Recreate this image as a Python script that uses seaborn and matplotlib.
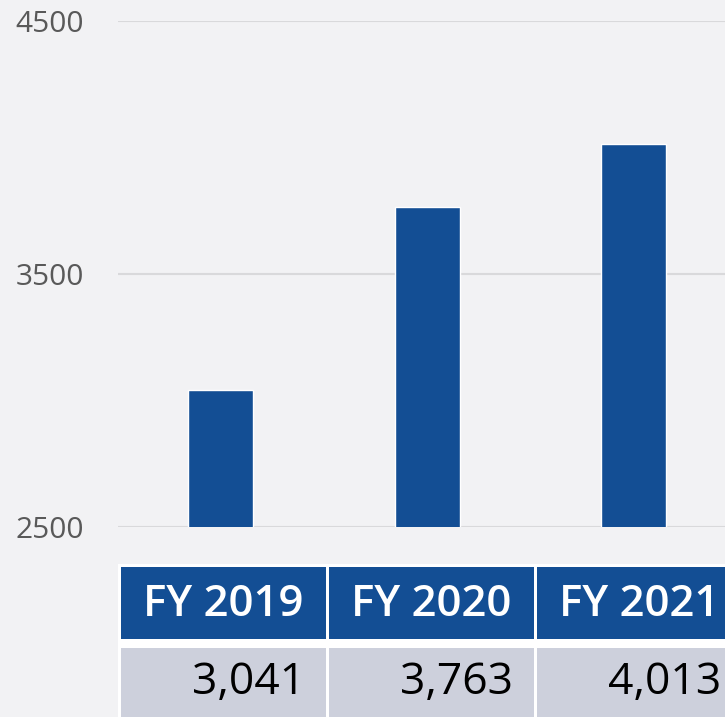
import seaborn as sns
import matplotlib.pyplot as plt
from matplotlib.patches import Rectangle

# datos
years = ["FY 2019", "FY 2020", "FY 2021"]
values = [3041, 3763, 4013]
value_labels = ["3,041", "3,763", "4,013"]
y_ticks = [2500, 3500, 4500]

bg = "#f2f2f4"
blue = "#134e94"
row_gray = "#cdd0dc"

sns.set_style("white")
plt.rcParams["font.family"] = ["Open Sans", "DejaVu Sans"]

fig = plt.figure(figsize=(7.25, 7.17), dpi=100, facecolor=bg)

# grafico de barras
ax = fig.add_axes([117.5 / 725, 1 - 526.7 / 717, 1 - 117.5 / 725, (526.7 - 20.7) / 717])
ax.set_facecolor(bg)
sns.barplot(x=years, y=values, color=blue, saturation=1, width=0.315, ax=ax)
ax.set_xlim(-0.5, 2.442)
ax.set_ylim(2500, 4500)
ax.set_yticks(y_ticks)
ax.set_yticklabels([str(t) for t in y_ticks])
ax.yaxis.grid(True, color="#d9d9db", linewidth=1.5)
ax.set_axisbelow(True)
ax.tick_params(axis="y", length=0, pad=24, labelsize=21.5, labelcolor="#595959")
ax.tick_params(axis="x", length=0, labelbottom=False)
ax.set_xlabel("")
ax.set_ylabel("")
for s in ax.spines.values():
    s.set_visible(False)

# tabla debajo (unidades en pixeles)
tab = fig.add_axes([117.5 / 725, 0, 607.5 / 725, 153 / 717])
tab.set_xlim(0, 607.5)
tab.set_ylim(0, 153)
tab.axis("off")
tab.add_patch(Rectangle((0, -10), 700, 163, facecolor="white", edgecolor="none", clip_on=False))
for i, (yr, lab) in enumerate(zip(years, value_labels)):
    x0 = 3.5 + i * 208
    tab.add_patch(Rectangle((x0, 78), 205.3, 72.3, facecolor=blue, edgecolor="none", clip_on=False))
    tab.add_patch(Rectangle((x0, -10), 205.3, 79.3, facecolor=row_gray, edgecolor="none", clip_on=False))
    tab.text(x0 + 102.6, 113, yr, ha="center", va="center", color="white",
             fontsize=31.5, fontweight="semibold")
    tab.text(x0 + 205.3 - 21, 34, lab, ha="right", va="center", color="black",
             fontsize=32)

fig.savefig("out.png", dpi=100, facecolor=bg)
